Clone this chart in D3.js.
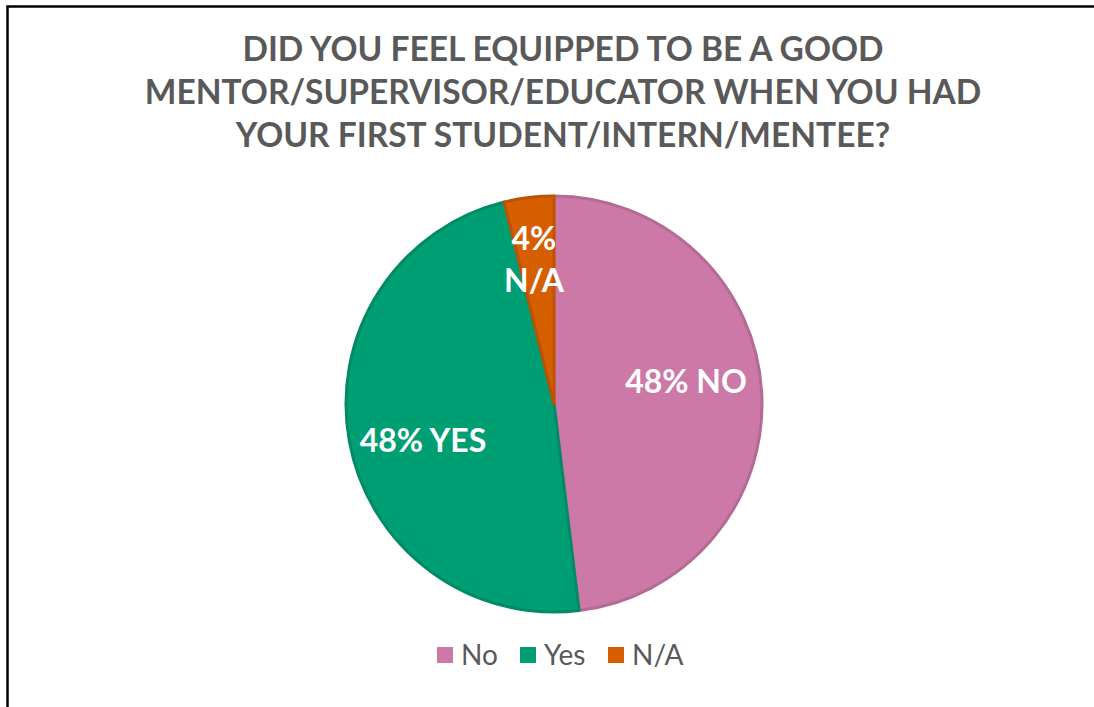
<!DOCTYPE html>
<html>
<head>
<meta charset="utf-8">
<script src="https://cdn.jsdelivr.net/npm/d3@7"></script>
<style>
  html, body { margin: 0; padding: 0; background: #fff; }
  svg { display: block; }
</style>
</head>
<body>
<svg id="chart" width="1094" height="707"></svg>
<script>
// Survey responses
const categories = ["No", "Yes", "N/A"];
const counts = [25, 25, 2];
const sliceLabels = ["NO", "YES", "N/A"];
const colors = ["#CC79A7", "#009E73", "#D55E00"];
const titleLines = [
  "DID YOU FEEL EQUIPPED TO BE A GOOD",
  "MENTOR/SUPERVISOR/EDUCATOR WHEN YOU HAD",
  "YOUR FIRST STUDENT/INTERN/MENTEE?"
];

const W = 1094, H = 707;
const svg = d3.select("#chart");
const font = "Lato, 'Open Sans', sans-serif";

// frame
svg.append("rect")
  .attr("x", 7.5).attr("y", 6.5)
  .attr("width", W + 20).attr("height", H + 20)
  .attr("fill", "#fff").attr("stroke", "#000").attr("stroke-width", 2.5);

// title
const title = svg.append("text")
  .attr("text-anchor", "middle")
  .attr("font-family", font)
  .attr("font-weight", 700)
  .attr("font-size", 33.5)
  .attr("fill", "#595959");
titleLines.forEach((t, i) => {
  title.append("tspan").attr("x", 563).attr("y", 61 + i * 43).text(t);
});

// pie
const cx = 554, cy = 404, r = 208;
const total = d3.sum(counts);
const pie = d3.pie().sort(null).value(d => d)(counts);
const arc = d3.arc().innerRadius(0).outerRadius(r);
const g = svg.append("g").attr("transform", `translate(${cx},${cy})`);

g.selectAll("path.slice")
  .data(pie)
  .join("path")
  .attr("class", "slice")
  .attr("d", arc)
  .attr("fill", (d, i) => colors[i])
  .attr("stroke", (d, i) => d3.color(colors[i]).darker(0.35))
  .attr("stroke-width", 3)
  .attr("stroke-linejoin", "round");

// slice labels: centroid on a ring, with a small nudge per slice
const pct = d => Math.round(d.value / total * 100) + "%";
const ringR = [0.66, 0.66, 0.80];
const nudge = [[-5, -3], [4, 23], [0, 11]];
pie.forEach((d, i) => {
  const a = d3.arc().innerRadius(r * ringR[i]).outerRadius(r * ringR[i]);
  const [x0, y0] = a.centroid(d);
  const x = x0 + nudge[i][0], y = y0 + nudge[i][1];
  const t = g.append("text")
    .attr("text-anchor", "middle")
    .attr("font-family", font)
    .attr("font-weight", 700)
    .attr("font-size", 32)
    .attr("fill", "#fff");
  if (i === 2) {
    t.append("tspan").attr("x", x).attr("y", y).text(pct(d));
    t.append("tspan").attr("x", x).attr("y", y + 42).text(sliceLabels[i]);
  } else {
    t.attr("x", x).attr("y", y).text(pct(d) + " " + sliceLabels[i]);
  }
});

// legend
const legendX = [437, 520, 608];
const legend = svg.append("g");
categories.forEach((c, i) => {
  legend.append("rect")
    .attr("x", legendX[i]).attr("y", 647)
    .attr("width", 16).attr("height", 16)
    .attr("fill", colors[i]);
  legend.append("text")
    .attr("x", legendX[i] + 24).attr("y", 665)
    .attr("font-family", font)
    .attr("font-size", 28)
    .attr("fill", "#595959")
    .text(c);
});
</script>
</body>
</html>
